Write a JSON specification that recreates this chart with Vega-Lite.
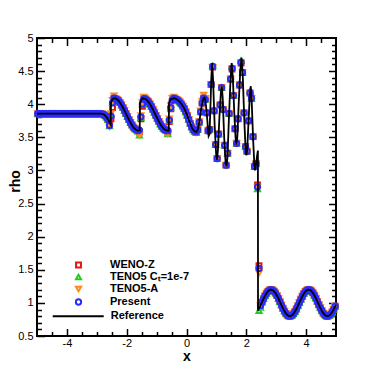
{
"$schema": "https://vega.github.io/schema/vega-lite/v6.json",
"width": 299, "height": 298,
"autosize": {"type": "none"},
"padding": {"left": 37, "top": 38, "right": 38, "bottom": 38},
"background": "white",
"config": {
 "view": {"stroke": "black", "strokeWidth": 2},
 "font": "Liberation Sans",
 "axis": {"grid": false, "domain": false, "ticks": true, "tickColor": "#000000", "tickOpacity": 1, "tickWidth": 1.5, "labelColor": "black", "labelFont": "Liberation Sans", "labelFontSize": 11, "titleFont": "Liberation Sans", "titleFontSize": 14, "titleFontWeight": "bold", "titleColor": "black", "zindex": 1}
},
"datasets": {
"ref": [
{"x":-5,"y":3.857},{"x":-2.85,"y":3.857},{"x":-2.8,"y":3.852},{"x":-2.75,"y":3.84},{"x":-2.7,"y":3.82},{"x":-2.65,"y":3.79},{"x":-2.6,"y":3.75},{"x":-2.56,"y":3.71},{"x":-2.535,"y":3.69},{"x":-2.525,"y":4.02},{"x":-2.5,"y":4.06},{"x":-2.45,"y":4.085},{"x":-2.42,"y":4.09},{"x":-2.35,"y":4.081},{"x":-2.3,"y":4.065},{"x":-2.25,"y":4.04},{"x":-2.2,"y":4.008},{"x":-2.15,"y":3.97},{"x":-2.1,"y":3.928},{"x":-2.05,"y":3.882},{"x":-2.0,"y":3.836},{"x":-1.95,"y":3.789},{"x":-1.9,"y":3.745},{"x":-1.85,"y":3.704},{"x":-1.8,"y":3.668},{"x":-1.75,"y":3.639},{"x":-1.7,"y":3.618},{"x":-1.65,"y":3.605},{"x":-1.6,"y":3.6},{"x":-1.565,"y":3.6},{"x":-1.555,"y":4.02},{"x":-1.52,"y":4.065},{"x":-1.48,"y":4.085},{"x":-1.45,"y":4.09},{"x":-1.38,"y":4.081},{"x":-1.33,"y":4.065},{"x":-1.28,"y":4.04},{"x":-1.23,"y":4.008},{"x":-1.18,"y":3.97},{"x":-1.13,"y":3.928},{"x":-1.08,"y":3.882},{"x":-1.03,"y":3.836},{"x":-0.98,"y":3.789},{"x":-0.93,"y":3.745},{"x":-0.88,"y":3.704},{"x":-0.83,"y":3.668},{"x":-0.78,"y":3.639},{"x":-0.73,"y":3.618},{"x":-0.68,"y":3.605},{"x":-0.63,"y":3.6},{"x":-0.595,"y":3.6},{"x":-0.585,"y":4.02},{"x":-0.55,"y":4.06},{"x":-0.5,"y":4.08},{"x":-0.42,"y":4.09},{"x":-0.35,"y":4.08},{"x":-0.3,"y":4.065},{"x":-0.25,"y":4.045},{"x":-0.2,"y":4.02},{"x":-0.15,"y":3.99},{"x":-0.1,"y":3.955},{"x":-0.05,"y":3.91},{"x":0,"y":3.86},{"x":0.05,"y":3.8},{"x":0.1,"y":3.74},{"x":0.15,"y":3.68},{"x":0.2,"y":3.63},{"x":0.25,"y":3.6},{"x":0.3,"y":3.585},{"x":0.33,"y":3.58},{"x":0.38,"y":3.62},{"x":0.43,"y":3.74},{"x":0.48,"y":3.9},{"x":0.53,"y":4.03},{"x":0.57,"y":4.09},{"x":0.6,"y":4.1},{"x":0.63,"y":4.06},{"x":0.67,"y":3.9},{"x":0.71,"y":3.68},{"x":0.74,"y":3.52},{"x":0.77,"y":3.55},{"x":0.8,"y":3.95},{"x":0.83,"y":4.4},{"x":0.86,"y":4.62},{"x":0.89,"y":4.35},{"x":0.94,"y":3.7},{"x":0.99,"y":3.25},{"x":1.02,"y":3.16},{"x":1.05,"y":3.3},{"x":1.1,"y":3.8},{"x":1.15,"y":4.18},{"x":1.18,"y":4.27},{"x":1.21,"y":4.1},{"x":1.26,"y":3.5},{"x":1.31,"y":3.1},{"x":1.34,"y":3.06},{"x":1.37,"y":3.2},{"x":1.42,"y":3.8},{"x":1.47,"y":4.35},{"x":1.51,"y":4.62},{"x":1.55,"y":4.4},{"x":1.6,"y":3.85},{"x":1.64,"y":3.5},{"x":1.67,"y":3.39},{"x":1.7,"y":3.5},{"x":1.75,"y":4.05},{"x":1.8,"y":4.52},{"x":1.84,"y":4.7},{"x":1.88,"y":4.45},{"x":1.93,"y":3.8},{"x":1.97,"y":3.38},{"x":2.0,"y":3.23},{"x":2.03,"y":3.3},{"x":2.08,"y":3.8},{"x":2.12,"y":4.15},{"x":2.15,"y":4.27},{"x":2.18,"y":4.05},{"x":2.23,"y":3.45},{"x":2.27,"y":3.08},{"x":2.29,"y":3.0},{"x":2.32,"y":3.08},{"x":2.36,"y":3.22},{"x":2.388,"y":3.3},{"x":2.392,"y":0.884},{"x":2.425,"y":0.915},
{"x":2.475,"y":0.962},{"x":2.525,"y":1.012},{"x":2.575,"y":1.061},{"x":2.625,"y":1.106},{"x":2.675,"y":1.145},{"x":2.725,"y":1.174},{"x":2.775,"y":1.193},{"x":2.825,"y":1.2},{"x":2.875,"y":1.194},{"x":2.925,"y":1.177},{"x":2.975,"y":1.148},{"x":3.025,"y":1.11},{"x":3.075,"y":1.066},{"x":3.125,"y":1.017},{"x":3.175,"y":0.967},{"x":3.225,"y":0.919},{"x":3.275,"y":0.876},{"x":3.325,"y":0.841},{"x":3.375,"y":0.816},{"x":3.425,"y":0.802},{"x":3.475,"y":0.801},{"x":3.525,"y":0.812},{"x":3.575,"y":0.834},{"x":3.625,"y":0.867},{"x":3.675,"y":0.908},{"x":3.725,"y":0.955},{"x":3.775,"y":1.005},{"x":3.825,"y":1.054},{"x":3.875,"y":1.1},{"x":3.925,"y":1.14},{"x":3.975,"y":1.171},{"x":4.025,"y":1.191},{"x":4.075,"y":1.2},{"x":4.125,"y":1.196},{"x":4.175,"y":1.18},{"x":4.225,"y":1.152},{"x":4.275,"y":1.116},{"x":4.325,"y":1.072},{"x":4.375,"y":1.023},{"x":4.425,"y":0.973},{"x":4.475,"y":0.925},{"x":4.525,"y":0.881},{"x":4.575,"y":0.845},{"x":4.625,"y":0.819},{"x":4.675,"y":0.803},{"x":4.725,"y":0.8},{"x":4.775,"y":0.81},{"x":4.825,"y":0.831},{"x":4.875,"y":0.862},{"x":4.925,"y":0.903},{"x":4.975,"y":0.949},{"x":5.0,"y":0.974}
],
"pts": [
{"x":-4.975,"k1":3.857,"k2":3.857,"k3":3.857,"k4":3.857},{"x":-4.925,"k1":3.857,"k2":3.857,"k3":3.857,"k4":3.857},{"x":-4.875,"k1":3.857,"k2":3.857,"k3":3.857,"k4":3.857},{"x":-4.825,"k1":3.857,"k2":3.857,"k3":3.857,"k4":3.857},{"x":-4.775,"k1":3.857,"k2":3.857,"k3":3.857,"k4":3.857},{"x":-4.725,"k1":3.857,"k2":3.857,"k3":3.857,"k4":3.857},{"x":-4.675,"k1":3.857,"k2":3.857,"k3":3.857,"k4":3.857},{"x":-4.625,"k1":3.857,"k2":3.857,"k3":3.857,"k4":3.857},{"x":-4.575,"k1":3.857,"k2":3.857,"k3":3.857,"k4":3.857},{"x":-4.525,"k1":3.857,"k2":3.857,"k3":3.857,"k4":3.857},
{"x":-4.475,"k1":3.857,"k2":3.857,"k3":3.857,"k4":3.857},{"x":-4.425,"k1":3.857,"k2":3.857,"k3":3.857,"k4":3.857},{"x":-4.375,"k1":3.857,"k2":3.857,"k3":3.857,"k4":3.857},{"x":-4.325,"k1":3.857,"k2":3.857,"k3":3.857,"k4":3.857},{"x":-4.275,"k1":3.857,"k2":3.857,"k3":3.857,"k4":3.857},{"x":-4.225,"k1":3.857,"k2":3.857,"k3":3.857,"k4":3.857},{"x":-4.175,"k1":3.857,"k2":3.857,"k3":3.857,"k4":3.857},{"x":-4.125,"k1":3.857,"k2":3.857,"k3":3.857,"k4":3.857},{"x":-4.075,"k1":3.857,"k2":3.857,"k3":3.857,"k4":3.857},{"x":-4.025,"k1":3.857,"k2":3.857,"k3":3.857,"k4":3.857},
{"x":-3.975,"k1":3.857,"k2":3.857,"k3":3.857,"k4":3.857},{"x":-3.925,"k1":3.857,"k2":3.857,"k3":3.857,"k4":3.857},{"x":-3.875,"k1":3.857,"k2":3.857,"k3":3.857,"k4":3.857},{"x":-3.825,"k1":3.857,"k2":3.857,"k3":3.857,"k4":3.857},{"x":-3.775,"k1":3.857,"k2":3.857,"k3":3.857,"k4":3.857},{"x":-3.725,"k1":3.857,"k2":3.857,"k3":3.857,"k4":3.857},{"x":-3.675,"k1":3.857,"k2":3.857,"k3":3.857,"k4":3.857},{"x":-3.625,"k1":3.857,"k2":3.857,"k3":3.857,"k4":3.857},{"x":-3.575,"k1":3.857,"k2":3.857,"k3":3.857,"k4":3.857},{"x":-3.525,"k1":3.857,"k2":3.857,"k3":3.857,"k4":3.857},
{"x":-3.475,"k1":3.857,"k2":3.857,"k3":3.857,"k4":3.857},{"x":-3.425,"k1":3.857,"k2":3.857,"k3":3.857,"k4":3.857},{"x":-3.375,"k1":3.857,"k2":3.857,"k3":3.857,"k4":3.857},{"x":-3.325,"k1":3.857,"k2":3.857,"k3":3.857,"k4":3.857},{"x":-3.275,"k1":3.857,"k2":3.857,"k3":3.857,"k4":3.857},{"x":-3.225,"k1":3.857,"k2":3.857,"k3":3.857,"k4":3.857},{"x":-3.175,"k1":3.857,"k2":3.857,"k3":3.857,"k4":3.857},{"x":-3.125,"k1":3.857,"k2":3.857,"k3":3.857,"k4":3.857},{"x":-3.075,"k1":3.857,"k2":3.857,"k3":3.857,"k4":3.857},{"x":-3.025,"k1":3.857,"k2":3.857,"k3":3.857,"k4":3.857},
{"x":-2.975,"k1":3.857,"k2":3.857,"k3":3.857,"k4":3.857},{"x":-2.925,"k1":3.857,"k2":3.857,"k3":3.857,"k4":3.857},{"x":-2.875,"k1":3.857,"k2":3.857,"k3":3.857,"k4":3.857},{"x":-2.825,"k1":3.855,"k2":3.855,"k3":3.855,"k4":3.855},{"x":-2.775,"k1":3.846,"k2":3.846,"k3":3.846,"k4":3.846},{"x":-2.725,"k1":3.83,"k2":3.83,"k3":3.83,"k4":3.83},{"x":-2.675,"k1":3.805,"k2":3.805,"k3":3.805,"k4":3.805},{"x":-2.625,"k1":3.77,"k2":3.77,"k3":3.77,"k4":3.77},{"x":-2.575,"k1":3.7,"k2":3.67,"k3":3.66,"k4":3.68},{"x":-2.525,"k1":3.78,"k2":3.84,"k3":3.86,"k4":3.82},
{"x":-2.475,"k1":3.95,"k2":4.02,"k3":4.06,"k4":4.02},{"x":-2.425,"k1":4.09,"k2":4.1,"k3":4.13,"k4":4.09},{"x":-2.375,"k1":4.085,"k2":4.085,"k3":4.09,"k4":4.085},{"x":-2.325,"k1":4.073,"k2":4.073,"k3":4.073,"k4":4.073},{"x":-2.275,"k1":4.053,"k2":4.053,"k3":4.053,"k4":4.053},{"x":-2.225,"k1":4.024,"k2":4.024,"k3":4.024,"k4":4.024},{"x":-2.175,"k1":3.989,"k2":3.989,"k3":3.989,"k4":3.989},{"x":-2.125,"k1":3.949,"k2":3.949,"k3":3.949,"k4":3.949},{"x":-2.075,"k1":3.905,"k2":3.905,"k3":3.905,"k4":3.905},{"x":-2.025,"k1":3.859,"k2":3.859,"k3":3.859,"k4":3.859},
{"x":-1.975,"k1":3.813,"k2":3.813,"k3":3.813,"k4":3.813},{"x":-1.925,"k1":3.767,"k2":3.767,"k3":3.767,"k4":3.767},{"x":-1.875,"k1":3.725,"k2":3.725,"k3":3.725,"k4":3.725},{"x":-1.825,"k1":3.686,"k2":3.686,"k3":3.686,"k4":3.686},{"x":-1.775,"k1":3.654,"k2":3.654,"k3":3.654,"k4":3.654},{"x":-1.725,"k1":3.629,"k2":3.629,"k3":3.629,"k4":3.629},{"x":-1.675,"k1":3.612,"k2":3.612,"k3":3.612,"k4":3.612},{"x":-1.625,"k1":3.6,"k2":3.59,"k3":3.59,"k4":3.603},{"x":-1.575,"k1":3.58,"k2":3.53,"k3":3.53,"k4":3.61},{"x":-1.525,"k1":3.78,"k2":3.8,"k3":3.83,"k4":3.81},
{"x":-1.475,"k1":3.97,"k2":4.0,"k3":4.03,"k4":4.0},{"x":-1.425,"k1":4.085,"k2":4.09,"k3":4.11,"k4":4.085},{"x":-1.375,"k1":4.08,"k2":4.08,"k3":4.08,"k4":4.08},{"x":-1.325,"k1":4.062,"k2":4.062,"k3":4.062,"k4":4.062},{"x":-1.275,"k1":4.037,"k2":4.037,"k3":4.037,"k4":4.037},{"x":-1.225,"k1":4.004,"k2":4.004,"k3":4.004,"k4":4.004},{"x":-1.175,"k1":3.966,"k2":3.966,"k3":3.966,"k4":3.966},{"x":-1.125,"k1":3.923,"k2":3.923,"k3":3.923,"k4":3.923},{"x":-1.075,"k1":3.878,"k2":3.878,"k3":3.878,"k4":3.878},{"x":-1.025,"k1":3.831,"k2":3.831,"k3":3.831,"k4":3.831},
{"x":-0.975,"k1":3.784,"k2":3.784,"k3":3.784,"k4":3.784},{"x":-0.925,"k1":3.741,"k2":3.741,"k3":3.741,"k4":3.741},{"x":-0.875,"k1":3.7,"k2":3.7,"k3":3.7,"k4":3.7},{"x":-0.825,"k1":3.665,"k2":3.665,"k3":3.665,"k4":3.665},{"x":-0.775,"k1":3.637,"k2":3.637,"k3":3.637,"k4":3.637},{"x":-0.725,"k1":3.616,"k2":3.616,"k3":3.616,"k4":3.616},{"x":-0.675,"k1":3.604,"k2":3.6,"k3":3.6,"k4":3.604},{"x":-0.625,"k1":3.58,"k2":3.55,"k3":3.55,"k4":3.6},{"x":-0.575,"k1":3.74,"k2":3.75,"k3":3.78,"k4":3.76},{"x":-0.525,"k1":3.93,"k2":3.95,"k3":3.98,"k4":3.95},
{"x":-0.475,"k1":4.05,"k2":4.06,"k3":4.09,"k4":4.06},{"x":-0.425,"k1":4.09,"k2":4.09,"k3":4.11,"k4":4.09},{"x":-0.375,"k1":4.08,"k2":4.08,"k3":4.08,"k4":4.08},{"x":-0.325,"k1":4.072,"k2":4.072,"k3":4.072,"k4":4.072},{"x":-0.275,"k1":4.055,"k2":4.055,"k3":4.055,"k4":4.055},{"x":-0.225,"k1":4.033,"k2":4.033,"k3":4.033,"k4":4.033},{"x":-0.175,"k1":4.005,"k2":4.005,"k3":4.005,"k4":4.005},{"x":-0.125,"k1":3.972,"k2":3.972,"k3":3.972,"k4":3.972},{"x":-0.075,"k1":3.933,"k2":3.933,"k3":3.933,"k4":3.933},{"x":-0.025,"k1":3.885,"k2":3.885,"k3":3.885,"k4":3.885},
{"x":0.025,"k1":3.83,"k2":3.83,"k3":3.83,"k4":3.83},{"x":0.075,"k1":3.77,"k2":3.77,"k3":3.77,"k4":3.77},{"x":0.125,"k1":3.71,"k2":3.71,"k3":3.71,"k4":3.71},{"x":0.175,"k1":3.655,"k2":3.655,"k3":3.655,"k4":3.655},{"x":0.225,"k1":3.615,"k2":3.615,"k3":3.615,"k4":3.615},{"x":0.275,"k1":3.592,"k2":3.592,"k3":3.592,"k4":3.592},{"x":0.325,"k1":3.582,"k2":3.57,"k3":3.57,"k4":3.582},{"x":0.375,"k1":3.616,"k2":3.616,"k3":3.616,"k4":3.616},{"x":0.425,"k1":3.728,"k2":3.728,"k3":3.74,"k4":3.728},{"x":0.475,"k1":3.884,"k2":3.884,"k3":3.9,"k4":3.884},
{"x":0.525,"k1":4.017,"k2":4.02,"k3":4.05,"k4":4.017},{"x":0.575,"k1":4.09,"k2":4.1,"k3":4.14,"k4":4.092},{"x":0.625,"k1":4.07,"k2":4.07,"k3":4.09,"k4":4.07},{"x":0.675,"k1":3.87,"k2":3.87,"k3":3.87,"k4":3.87},{"x":0.725,"k1":3.6,"k2":3.6,"k3":3.6,"k4":3.6},{"x":0.775,"k1":3.62,"k2":3.62,"k3":3.62,"k4":3.62},{"x":0.825,"k1":4.3,"k2":4.3,"k3":4.3,"k4":4.3},{"x":0.875,"k1":4.56,"k2":4.58,"k3":4.56,"k4":4.57},{"x":0.925,"k1":3.9,"k2":3.9,"k3":3.9,"k4":3.9},{"x":0.975,"k1":3.39,"k2":3.39,"k3":3.39,"k4":3.39},
{"x":1.025,"k1":3.18,"k2":3.18,"k3":3.18,"k4":3.18},{"x":1.075,"k1":3.55,"k2":3.55,"k3":3.55,"k4":3.55},{"x":1.125,"k1":3.99,"k2":3.99,"k3":3.99,"k4":3.99},{"x":1.175,"k1":4.25,"k2":4.25,"k3":4.25,"k4":4.25},{"x":1.225,"k1":3.92,"k2":3.92,"k3":3.92,"k4":3.92},{"x":1.275,"k1":3.38,"k2":3.38,"k3":3.38,"k4":3.38},{"x":1.325,"k1":3.08,"k2":3.08,"k3":3.08,"k4":3.08},{"x":1.375,"k1":3.26,"k2":3.26,"k3":3.26,"k4":3.26},{"x":1.425,"k1":3.86,"k2":3.86,"k3":3.86,"k4":3.86},{"x":1.475,"k1":4.38,"k2":4.38,"k3":4.38,"k4":4.38},
{"x":1.525,"k1":4.53,"k2":4.56,"k3":4.54,"k4":4.54},{"x":1.575,"k1":4.13,"k2":4.13,"k3":4.13,"k4":4.13},{"x":1.625,"k1":3.63,"k2":3.63,"k3":3.63,"k4":3.63},{"x":1.675,"k1":3.41,"k2":3.41,"k3":3.41,"k4":3.41},{"x":1.725,"k1":3.78,"k2":3.78,"k3":3.78,"k4":3.78},{"x":1.775,"k1":4.29,"k2":4.29,"k3":4.29,"k4":4.29},{"x":1.825,"k1":4.62,"k2":4.66,"k3":4.63,"k4":4.63},{"x":1.875,"k1":4.48,"k2":4.48,"k3":4.48,"k4":4.48},{"x":1.925,"k1":3.87,"k2":3.87,"k3":3.87,"k4":3.87},{"x":1.975,"k1":3.36,"k2":3.36,"k3":3.36,"k4":3.36},
{"x":2.025,"k1":3.29,"k2":3.29,"k3":3.29,"k4":3.29},{"x":2.075,"k1":3.75,"k2":3.75,"k3":3.75,"k4":3.75},{"x":2.125,"k1":4.17,"k2":4.2,"k3":4.17,"k4":4.17},{"x":2.175,"k1":4.09,"k2":4.09,"k3":4.09,"k4":4.09},{"x":2.225,"k1":3.51,"k2":3.51,"k3":3.51,"k4":3.51},{"x":2.275,"k1":3.06,"k2":3.06,"k3":3.06,"k4":3.06},{"x":2.325,"k1":3.1,"k2":3.1,"k3":3.1,"k4":3.1},{"x":2.375,"k1":2.78,"k2":2.72,"k3":2.75,"k4":2.75},{"x":2.425,"k1":1.56,"k2":0.88,"k3":1.45,"k4":1.52},{"x":2.475,"k1":0.962,"k2":0.93,"k3":0.962,"k4":0.962},
{"x":2.525,"k1":1.012,"k2":1.012,"k3":1.012,"k4":1.012},{"x":2.575,"k1":1.061,"k2":1.061,"k3":1.061,"k4":1.061},{"x":2.625,"k1":1.106,"k2":1.106,"k3":1.106,"k4":1.106},{"x":2.675,"k1":1.145,"k2":1.145,"k3":1.145,"k4":1.145},{"x":2.725,"k1":1.174,"k2":1.174,"k3":1.174,"k4":1.174},{"x":2.775,"k1":1.193,"k2":1.193,"k3":1.193,"k4":1.193},{"x":2.825,"k1":1.2,"k2":1.2,"k3":1.2,"k4":1.2},{"x":2.875,"k1":1.194,"k2":1.194,"k3":1.194,"k4":1.194},{"x":2.925,"k1":1.177,"k2":1.177,"k3":1.177,"k4":1.177},{"x":2.975,"k1":1.148,"k2":1.148,"k3":1.148,"k4":1.148},
{"x":3.025,"k1":1.11,"k2":1.11,"k3":1.11,"k4":1.11},{"x":3.075,"k1":1.066,"k2":1.066,"k3":1.066,"k4":1.066},{"x":3.125,"k1":1.017,"k2":1.017,"k3":1.017,"k4":1.017},{"x":3.175,"k1":0.967,"k2":0.967,"k3":0.967,"k4":0.967},{"x":3.225,"k1":0.919,"k2":0.919,"k3":0.919,"k4":0.919},{"x":3.275,"k1":0.876,"k2":0.876,"k3":0.876,"k4":0.876},{"x":3.325,"k1":0.841,"k2":0.841,"k3":0.841,"k4":0.841},{"x":3.375,"k1":0.816,"k2":0.816,"k3":0.816,"k4":0.816},{"x":3.425,"k1":0.802,"k2":0.802,"k3":0.802,"k4":0.802},{"x":3.475,"k1":0.801,"k2":0.801,"k3":0.801,"k4":0.801},
{"x":3.525,"k1":0.812,"k2":0.812,"k3":0.812,"k4":0.812},{"x":3.575,"k1":0.834,"k2":0.834,"k3":0.834,"k4":0.834},{"x":3.625,"k1":0.867,"k2":0.867,"k3":0.867,"k4":0.867},{"x":3.675,"k1":0.908,"k2":0.908,"k3":0.908,"k4":0.908},{"x":3.725,"k1":0.955,"k2":0.955,"k3":0.955,"k4":0.955},{"x":3.775,"k1":1.005,"k2":1.005,"k3":1.005,"k4":1.005},{"x":3.825,"k1":1.054,"k2":1.054,"k3":1.054,"k4":1.054},{"x":3.875,"k1":1.1,"k2":1.1,"k3":1.1,"k4":1.1},{"x":3.925,"k1":1.14,"k2":1.14,"k3":1.14,"k4":1.14},{"x":3.975,"k1":1.171,"k2":1.171,"k3":1.171,"k4":1.171},
{"x":4.025,"k1":1.191,"k2":1.191,"k3":1.191,"k4":1.191},{"x":4.075,"k1":1.2,"k2":1.2,"k3":1.2,"k4":1.2},{"x":4.125,"k1":1.196,"k2":1.196,"k3":1.196,"k4":1.196},{"x":4.175,"k1":1.18,"k2":1.18,"k3":1.18,"k4":1.18},{"x":4.225,"k1":1.152,"k2":1.152,"k3":1.152,"k4":1.152},{"x":4.275,"k1":1.116,"k2":1.116,"k3":1.116,"k4":1.116},{"x":4.325,"k1":1.072,"k2":1.072,"k3":1.072,"k4":1.072},{"x":4.375,"k1":1.023,"k2":1.023,"k3":1.023,"k4":1.023},{"x":4.425,"k1":0.973,"k2":0.973,"k3":0.973,"k4":0.973},{"x":4.475,"k1":0.925,"k2":0.925,"k3":0.925,"k4":0.925},
{"x":4.525,"k1":0.881,"k2":0.881,"k3":0.881,"k4":0.881},{"x":4.575,"k1":0.845,"k2":0.845,"k3":0.845,"k4":0.845},{"x":4.625,"k1":0.819,"k2":0.819,"k3":0.819,"k4":0.819},{"x":4.675,"k1":0.803,"k2":0.803,"k3":0.803,"k4":0.803},{"x":4.725,"k1":0.8,"k2":0.8,"k3":0.8,"k4":0.8},{"x":4.775,"k1":0.81,"k2":0.81,"k3":0.81,"k4":0.81},{"x":4.825,"k1":0.831,"k2":0.831,"k3":0.831,"k4":0.831},{"x":4.875,"k1":0.862,"k2":0.862,"k3":0.862,"k4":0.862},{"x":4.925,"k1":0.903,"k2":0.903,"k3":0.903,"k4":0.903},{"x":4.975,"k1":0.949,"k2":0.949,"k3":0.949,"k4":0.949}
]
},
"layer": [
{
 "data": {"name": "ref"},
 "mark": {"type": "point", "opacity": 0},
 "encoding": {
  "x": {"field": "x", "type": "quantitative", "scale": {"domain": [-5,5], "nice": false, "zero": false},
        "axis": {"orient": "bottom", "title": null, "labels": false, "tickSize": 4.5, "offset": -4.5, "values": [-4.5,-3.5,-3,-2.5,-1.5,-1,-0.5,0.5,1,1.5,2.5,3,3.5,4.5]}},
  "y": {"field": "y", "type": "quantitative", "scale": {"domain": [0.5,5], "nice": false, "zero": false},
        "axis": {"orient": "left", "title": null, "labels": false, "tickSize": 4.5, "offset": -4.5, "values": [0.6,0.7,0.8,0.9,1.1,1.2,1.3,1.4,1.6,1.7,1.8,1.9,2.1,2.2,2.3,2.4,2.6,2.7,2.8,2.9,3.1,3.2,3.3,3.4,3.6,3.7,3.8,3.9,4.1,4.2,4.3,4.4,4.6,4.7,4.8,4.9]}}
 }
},
{
 "data": {"name": "ref"},
 "mark": {"type": "point", "opacity": 0},
 "encoding": {
  "x": {"field": "x", "type": "quantitative", "scale": {"domain": [-5,5], "nice": false, "zero": false},
        "axis": {"orient": "top", "title": null, "labels": false, "tickSize": 4.5, "offset": -4.5, "values": [-4.5,-3.5,-3,-2.5,-1.5,-1,-0.5,0.5,1,1.5,2.5,3,3.5,4.5]}},
  "y": {"field": "y", "type": "quantitative", "scale": {"domain": [0.5,5], "nice": false, "zero": false},
        "axis": {"orient": "right", "title": null, "labels": false, "tickSize": 4.5, "offset": -4.5, "values": [0.6,0.7,0.8,0.9,1.1,1.2,1.3,1.4,1.6,1.7,1.8,1.9,2.1,2.2,2.3,2.4,2.6,2.7,2.8,2.9,3.1,3.2,3.3,3.4,3.6,3.7,3.8,3.9,4.1,4.2,4.3,4.4,4.6,4.7,4.8,4.9]}}
 }
},
{
 "data": {"name": "pts"},
 "transform": [{"fold": ["k1","k2","k3","k4"], "as": ["key","val"]}],
 "mark": {"type": "point", "filled": false, "strokeWidth": 2, "opacity": 1},
 "encoding": {
  "x": {"field": "x", "type": "quantitative", "scale": {"domain": [-5,5], "nice": false, "zero": false},
        "axis": {"orient": "top", "title": null, "labels": false, "tickSize": 7.5, "offset": -7.5, "values": [-4,-2,0,2,4]}},
  "y": {"field": "val", "type": "quantitative", "scale": {"domain": [0.5,5], "nice": false, "zero": false},
        "axis": {"orient": "right", "title": null, "labels": false, "tickSize": 7.5, "offset": -7.5, "values": [1,1.5,2,2.5,3,3.5,4,4.5]}},
  "color": {"field": "key", "type": "nominal",
            "scale": {"domain": ["k1","k2","k3","k4"], "range": ["#e01818","#22cc22","#ff8a1c","#2b2bff"]},
            "legend": {"orient": "none", "legendX": 36, "legendY": 221.5, "title": null, "labelFont": "Liberation Sans", "labelFontSize": 11, "labelFontWeight": "bold", "labelColor": "black", "symbolStrokeWidth": 2, "symbolSize": 22, "rowPadding": -1, "labelOffset": 26, "padding": 0,
                       "labelExpr": "datum.label === 'k1' ? 'WENO-Z' : datum.label === 'k2' ? 'TENO5 Cₜ=1e-7' : datum.label === 'k3' ? 'TENO5-A' : 'Present'"}},
  "shape": {"field": "key", "type": "nominal", "scale": {"domain": ["k1","k2","k3","k4"], "range": ["square","triangle-up","triangle-down","circle"]}},
  "size": {"field": "key", "type": "nominal", "scale": {"domain": ["k1","k2","k3","k4"], "range": [24,28,28,34]}, "legend": null},
  "order": {"field": "key", "sort": "ascending"}
 }
},
{
 "data": {"name": "ref"},
 "mark": {"type": "line", "color": "black", "strokeWidth": 1.8},
 "encoding": {
  "x": {"field": "x", "type": "quantitative", "scale": {"domain": [-5,5], "nice": false, "zero": false},
        "axis": {"orient": "bottom", "title": "x", "values": [-4,-2,0,2,4], "tickSize": 7.5, "offset": -7.5,
                 "labelExpr": "'' + datum.value", "labelPadding": 1, "titlePadding": 1}},
  "y": {"field": "y", "type": "quantitative", "scale": {"domain": [0.5,5], "nice": false, "zero": false},
        "axis": {"orient": "left", "title": "rho", "values": [0.5,1,1.5,2,2.5,3,3.5,4,4.5,5], "tickSize": 7.5, "offset": -7.5,
                 "labelExpr": "'' + datum.value", "labelPadding": 4, "titleX": -22, "titleY": 143}},
  "strokeDash": {"datum": "Reference", "type": "nominal", "scale": {"range": [[1,0]]},
                 "legend": {"orient": "none", "legendX": 14.7, "legendY": 251.8, "title": null, "labelFont": "Liberation Sans", "labelFontSize": 11, "labelFontWeight": "bold", "labelColor": "black", "symbolType": "stroke", "symbolStrokeColor": "black", "symbolStrokeWidth": 2, "symbolSize": 2601, "labelOffset": 6, "padding": 0}}
 }
}
],
"resolve": {"axis": {"x": "independent", "y": "independent"}}
}
